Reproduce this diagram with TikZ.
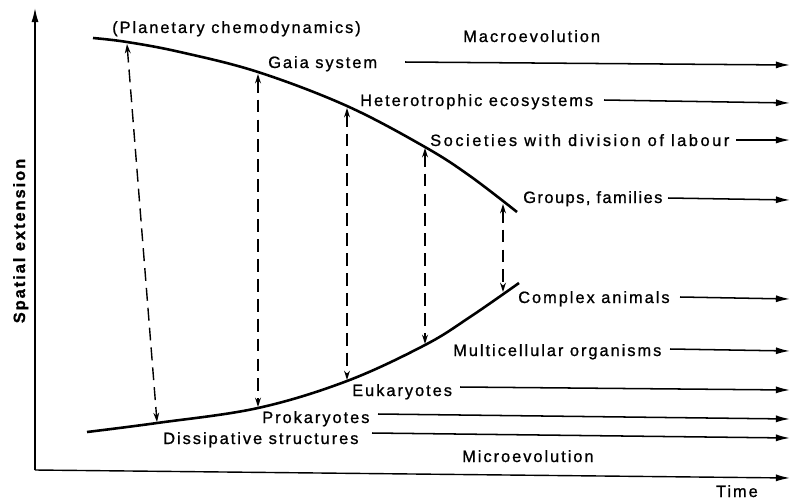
\documentclass[tikz,border=0pt]{standalone}
\usepackage{fontspec}
\newfontfamily\lbl{Liberation Sans}[LetterSpace=12,FakeBold=1]
\newfontfamily\lblw{Liberation Sans}[LetterSpace=15.5,FakeBold=1]
\newfontfamily\lbln{Liberation Sans}[LetterSpace=9,FakeBold=1]
\usetikzlibrary{arrows.meta}
\begin{document}
\begin{tikzpicture}[x=0.03cm,y=-0.03cm,
  lab/.style={font=\lbl\fontsize{14}{16}\selectfont, anchor=base west, inner sep=0pt},
  tarr/.style={line width=1.3pt,-{Latex[length=12pt,width=6pt]}},
  darr/.style={line width=1.2pt,dash pattern=on 11pt off 6pt,
     {Stealth[length=8pt,width=5pt]}-{Stealth[length=8pt,width=5pt]}},
  curve/.style={line width=2.2pt},
  axis/.style={line width=1.2pt}]
\useasboundingbox (0,0) rectangle (791,500);

% axes
\coordinate (O) at (35,470);
\coordinate (ytop) at (35,8);
\coordinate (xend) at (790,478);
\draw[axis,-{Latex[length=12pt,width=6pt]}] (O) -- (ytop);
\draw[axis,-{Latex[length=12pt,width=6pt]}] (O) -- (xend);
\node[lab, anchor=base east] (time) at (758,497) {Time};
\node[font=\lbl\bfseries\fontsize{14}{16}\selectfont, rotate=90, anchor=base, inner sep=0pt] (spatial) at (25,241) {Spatial extension};

% envelope curves
\draw[curve] plot[smooth,tension=0.6] coordinates {(93,38) (127,42) (180,52) (258,72) (347,106) (425,147) (470,176) (517,212)};
\draw[curve] plot[smooth,tension=0.6] coordinates {(87,432) (157,423) (258,408) (347,381) (425,345) (470,317) (519,283)};

% dashed double arrows
\coordinate (u1) at (127,44); \coordinate (l1) at (157,422);
\coordinate (u2) at (258,74); \coordinate (l2) at (258,407);
\coordinate (u3) at (347,108); \coordinate (l3) at (347,380);
\coordinate (u4) at (425,148); \coordinate (l4) at (425,344);
\coordinate (u5) at (503,204); \coordinate (l5) at (503,292);
\foreach \i in {1,...,5} \draw[darr] (u\i) -- (l\i);

% labels
\node[lab] (plan) at (112,33) {(Planetary chemodynamics)};
\node[lab] (macro) at (463,42) {Macroevolution};
\node[lab] (micro) at (462,462) {Microevolution};

\node[lab] (gaia) at (268,68) {Gaia system};
\node[lab] (het) at (360,106) {Heterotrophic ecosystems};
\node[lab, font=\lblw\fontsize{14}{16}\selectfont] (soc) at (430,146) {Societies with division of labour};
\node[lab, font=\lbln\fontsize{14}{16}\selectfont] (grp) at (523,203) {Groups, families};
\node[lab] (cplx) at (518,303) {Complex animals};
\node[lab] (mult) at (453,356) {Multicellular organisms};
\node[lab] (euk) at (352,396) {Eukaryotes};
\node[lab] (prok) at (262,423) {Prokaryotes};
\node[lab] (diss) at (163,444) {Dissipative structures};

% time arrows
\coordinate (gaiaS) at (405,62);  \coordinate (gaiaE) at (790,65);
\coordinate (hetS) at (604,100);  \coordinate (hetE) at (790,103);
\coordinate (socS) at (736,140);  \coordinate (socE) at (790,140);
\coordinate (grpS) at (668,198);  \coordinate (grpE) at (790,200);
\coordinate (cplxS) at (680,297); \coordinate (cplxE) at (790,299);
\coordinate (multS) at (670,349); \coordinate (multE) at (790,351);
\coordinate (eukS) at (460,387);  \coordinate (eukE) at (790,390);
\coordinate (prokS) at (378,414); \coordinate (prokE) at (790,419);
\coordinate (dissS) at (372,433); \coordinate (dissE) at (790,438);
\foreach \n in {gaia,het,soc,grp,cplx,mult,euk,prok,diss}
  \draw[tarr] (\n S) -- (\n E);
\end{tikzpicture}
\end{document}
